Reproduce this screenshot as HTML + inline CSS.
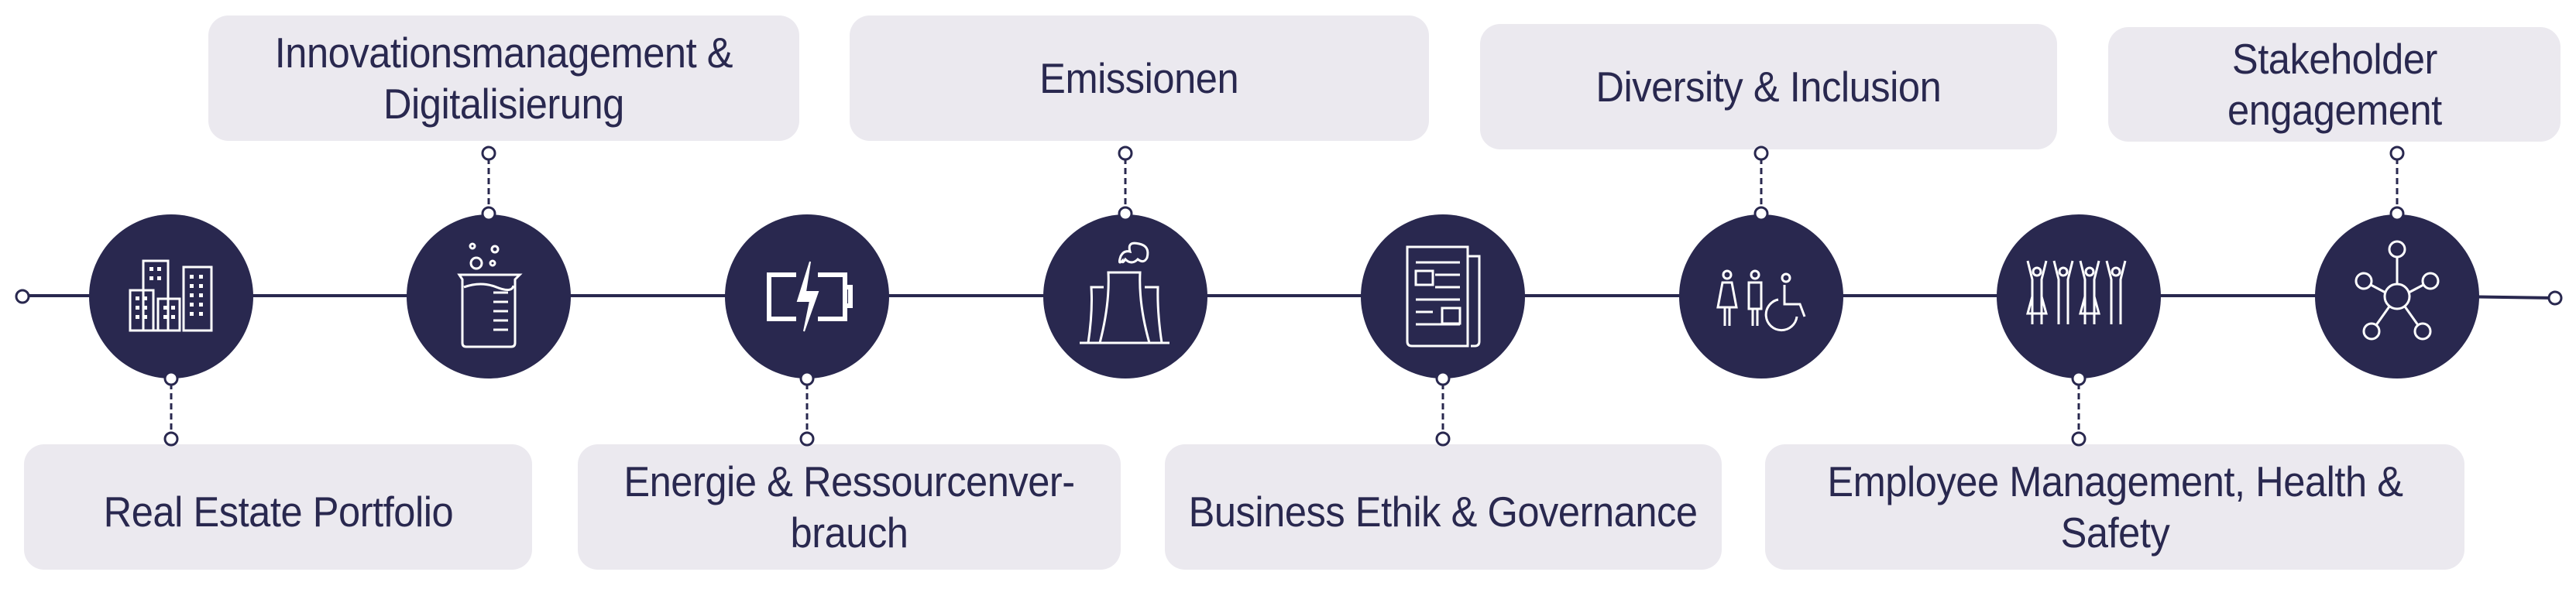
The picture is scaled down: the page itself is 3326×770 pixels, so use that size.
<!DOCTYPE html>
<html><head><meta charset="utf-8"><style>
html,body{margin:0;padding:0;background:#fff;width:3326px;height:770px;overflow:hidden;position:relative}
.b{position:absolute;background:#ebe9ef;border-radius:26px;display:flex;align-items:center;justify-content:center;text-align:center;font-family:"Liberation Sans",sans-serif;font-size:55px;line-height:66px;color:#29284f;letter-spacing:-0.5px}
.b span{display:inline-block;transform:scaleX(0.92);white-space:nowrap}
svg{position:absolute;left:0;top:0}
</style></head><body>
<div class="b" style="left:269px;top:20px;width:763px;height:162px"><span>Innovationsmanagement &amp;<br>Digitalisierung</span></div>
<div class="b" style="left:1097px;top:20px;width:748px;height:162px"><span>Emissionen</span></div>
<div class="b" style="left:1911px;top:31px;width:745px;height:162px"><span>Diversity &amp; Inclusion</span></div>
<div class="b" style="left:2722px;top:35px;width:584px;height:148px"><span>Stakeholder<br>engagement</span></div>
<div class="b" style="left:31px;top:574px;width:656px;height:162px;padding-top:12px;box-sizing:border-box"><span>Real Estate Portfolio</span></div>
<div class="b" style="left:746px;top:574px;width:701px;height:162px"><span>Energie &amp; Ressourcenver-<br>brauch</span></div>
<div class="b" style="left:1504px;top:574px;width:719px;height:162px;padding-top:12px;box-sizing:border-box"><span>Business Ethik &amp; Governance</span></div>
<div class="b" style="left:2279px;top:574px;width:903px;height:162px"><span>Employee Management, Health &amp;<br>Safety</span></div>
<svg width="3326" height="770" viewBox="0 0 3326 770">
<g stroke="#29284f" stroke-width="4" fill="none">
<line x1="29" y1="382" x2="3095" y2="382"/>
<line x1="3095" y1="382" x2="3299" y2="385"/>
</g>
<g fill="#29284f">
<circle cx="221" cy="383" r="106"/><circle cx="631" cy="383" r="106"/><circle cx="1042" cy="383" r="106"/><circle cx="1453" cy="383" r="106"/>
<circle cx="1863" cy="383" r="106"/><circle cx="2274" cy="383" r="106"/><circle cx="2684" cy="383" r="106"/><circle cx="3095" cy="383" r="106"/>
</g>
<g stroke="#29284f" stroke-width="3" stroke-dasharray="8 5">
<line x1="631" y1="204" x2="631" y2="270"/><line x1="1453" y1="204" x2="1453" y2="270"/><line x1="2274" y1="204" x2="2274" y2="270"/><line x1="3095" y1="204" x2="3095" y2="270"/>
<line x1="221" y1="495" x2="221" y2="561"/><line x1="1042" y1="495" x2="1042" y2="561"/><line x1="1863" y1="495" x2="1863" y2="561"/><line x1="2684" y1="495" x2="2684" y2="561"/>
</g>
<g fill="#fff" stroke="#29284f" stroke-width="3">
<circle cx="29" cy="383" r="8"/><circle cx="3299" cy="385" r="8"/>
<circle cx="631" cy="198" r="8"/><circle cx="631" cy="276" r="8"/>
<circle cx="1453" cy="198" r="8"/><circle cx="1453" cy="276" r="8"/>
<circle cx="2274" cy="198" r="8"/><circle cx="2274" cy="276" r="8"/>
<circle cx="3095" cy="198" r="8"/><circle cx="3095" cy="276" r="8"/>
<circle cx="221" cy="489" r="8"/><circle cx="221" cy="567" r="8"/>
<circle cx="1042" cy="489" r="8"/><circle cx="1042" cy="567" r="8"/>
<circle cx="1863" cy="489" r="8"/><circle cx="1863" cy="567" r="8"/>
<circle cx="2684" cy="489" r="8"/><circle cx="2684" cy="567" r="8"/>
</g>
<g stroke="#fff" stroke-width="3" fill="none">
<g transform="translate(221,383)">
<rect x="-36" y="-46" width="32" height="90"/><rect x="-53" y="-8" width="30" height="52"/><rect x="-17" y="3" width="28" height="41"/><rect x="16" y="-38" width="36" height="82"/>
<g fill="#fff" stroke="none">
<rect x="-28" y="-38" width="5" height="5"/><rect x="-18" y="-38" width="5" height="5"/><rect x="-28" y="-26" width="5" height="5"/><rect x="-18" y="-26" width="5" height="5"/>
<rect x="-46" y="0" width="5" height="5"/><rect x="-36" y="0" width="5" height="5"/><rect x="-46" y="12" width="5" height="5"/><rect x="-36" y="12" width="5" height="5"/><rect x="-46" y="24" width="5" height="5"/><rect x="-36" y="24" width="5" height="5"/>
<rect x="-10" y="12" width="5" height="5"/><rect x="0" y="12" width="5" height="5"/><rect x="-10" y="24" width="5" height="5"/><rect x="0" y="24" width="5" height="5"/>
<rect x="24" y="-28" width="5" height="5"/><rect x="36" y="-28" width="5" height="5"/><rect x="24" y="-16" width="5" height="5"/><rect x="36" y="-16" width="5" height="5"/><rect x="24" y="-4" width="5" height="5"/><rect x="36" y="-4" width="5" height="5"/><rect x="24" y="8" width="5" height="5"/><rect x="36" y="8" width="5" height="5"/><rect x="24" y="20" width="5" height="5"/><rect x="36" y="20" width="5" height="5"/>
</g>
</g>
<g transform="translate(631,383)">
<path d="M-38 -28 H40 L34 -22 V60 Q34 65 29 65 H-29 Q-34 65 -34 60 V-22 Z"/>
<path d="M-32 -12 Q-10 -20 10 -12 T32 -14"/>
<path d="M6 -5 H25 M6 7 H25 M6 19 H25 M6 31 H25 M6 43 H25"/>
<circle cx="-16" cy="-43" r="7"/><circle cx="-21" cy="-65" r="3"/><circle cx="8" cy="-61" r="4"/><circle cx="5" cy="-43" r="3"/>
</g>
<g transform="translate(1042,383)" stroke-width="6">
<path d="M-14 -28 H-49 V29 H-14"/><path d="M14 -28 H49 V29 H14"/><path d="M49 -12 H56 V12 H49"/>
<path d="M4 -45 L-12 6 H4 L-4 45 L14 -6 H-2 Z" fill="#fff" stroke-width="2"/>
</g>
<g transform="translate(1453,383)">
<path d="M-59 60 H57"/><path d="M-48 60 Q-42 20 -44 -12 H-28"/><path d="M47 60 Q41 20 42 -12 H25"/>
<path d="M-33 60 Q-20 10 -22 -31 H19 Q17 10 31 60"/>
<path d="M-4 -46 Q-10 -40 -6 -52 Q-2 -60 6 -58 Q2 -72 18 -68 Q32 -65 28 -50 Q24 -42 16 -48 Q8 -40 0 -48 Q-4 -42 -4 -46 Z"/>
</g>
<g transform="translate(1863,383)">
<path d="M-46 -64 H32 V64 H-40 Q-46 64 -46 58 Z"/><path d="M32 -52 H47 V58 Q47 64 41 64 H36"/>
<path d="M-35 -44 H22 M-10 -28 H22 M-10 -12 H22 M-35 4 H22 M-35 20 H-13 M-35 36 H22"/>
<rect x="-35" y="-33" width="22" height="18"/><rect x="-1" y="15" width="23" height="20"/>
</g>
<g transform="translate(2274,383)">
<circle cx="-44" cy="-28" r="5"/><path d="M-50 -18 H-38 L-32 14 H-56 Z M-47 14 V38 M-41 14 V38"/>
<circle cx="-8" cy="-28" r="5"/><path d="M-16 -18 H0 V16 H-16 Z M-11 16 V38 M-5 16 V38"/>
<circle cx="32" cy="-24" r="5"/><path d="M30 -15 L30 10 L50 10 L56 26"/><path d="M22 4 A20 20 0 1 0 46 26"/>
</g>
<g transform="translate(2684,383)">
<circle cx="-54" cy="-32" r="5"/><path d="M-66 -46 L-60 -22 V36 M-42 -46 L-48 -22 V36 M-60 0 L-66 22 H-42 L-48 0"/>
<circle cx="-20" cy="-32" r="5"/><path d="M-32 -46 L-26 -22 V36 M-8 -46 L-14 -22 V36"/>
<circle cx="14" cy="-32" r="5"/><path d="M2 -46 L8 -22 V36 M26 -46 L20 -22 V36 M8 0 L2 22 H26 L20 0"/>
<circle cx="48" cy="-32" r="5"/><path d="M36 -46 L42 -22 V36 M60 -46 L54 -22 V36"/>
</g>
<g transform="translate(3095,383)">
<circle cx="0" cy="0" r="16"/><circle cx="0" cy="-61" r="10"/><circle cx="-43" cy="-20" r="10"/><circle cx="43" cy="-20" r="10"/><circle cx="-33" cy="45" r="10"/><circle cx="33" cy="45" r="10"/>
<path d="M0 -51 V-16 M-34 -15 L-15 -5 M34 -15 L15 -5 M-27 37 L-10 13 M27 37 L10 13"/>
</g>
</g>
</svg>
</body></html>
